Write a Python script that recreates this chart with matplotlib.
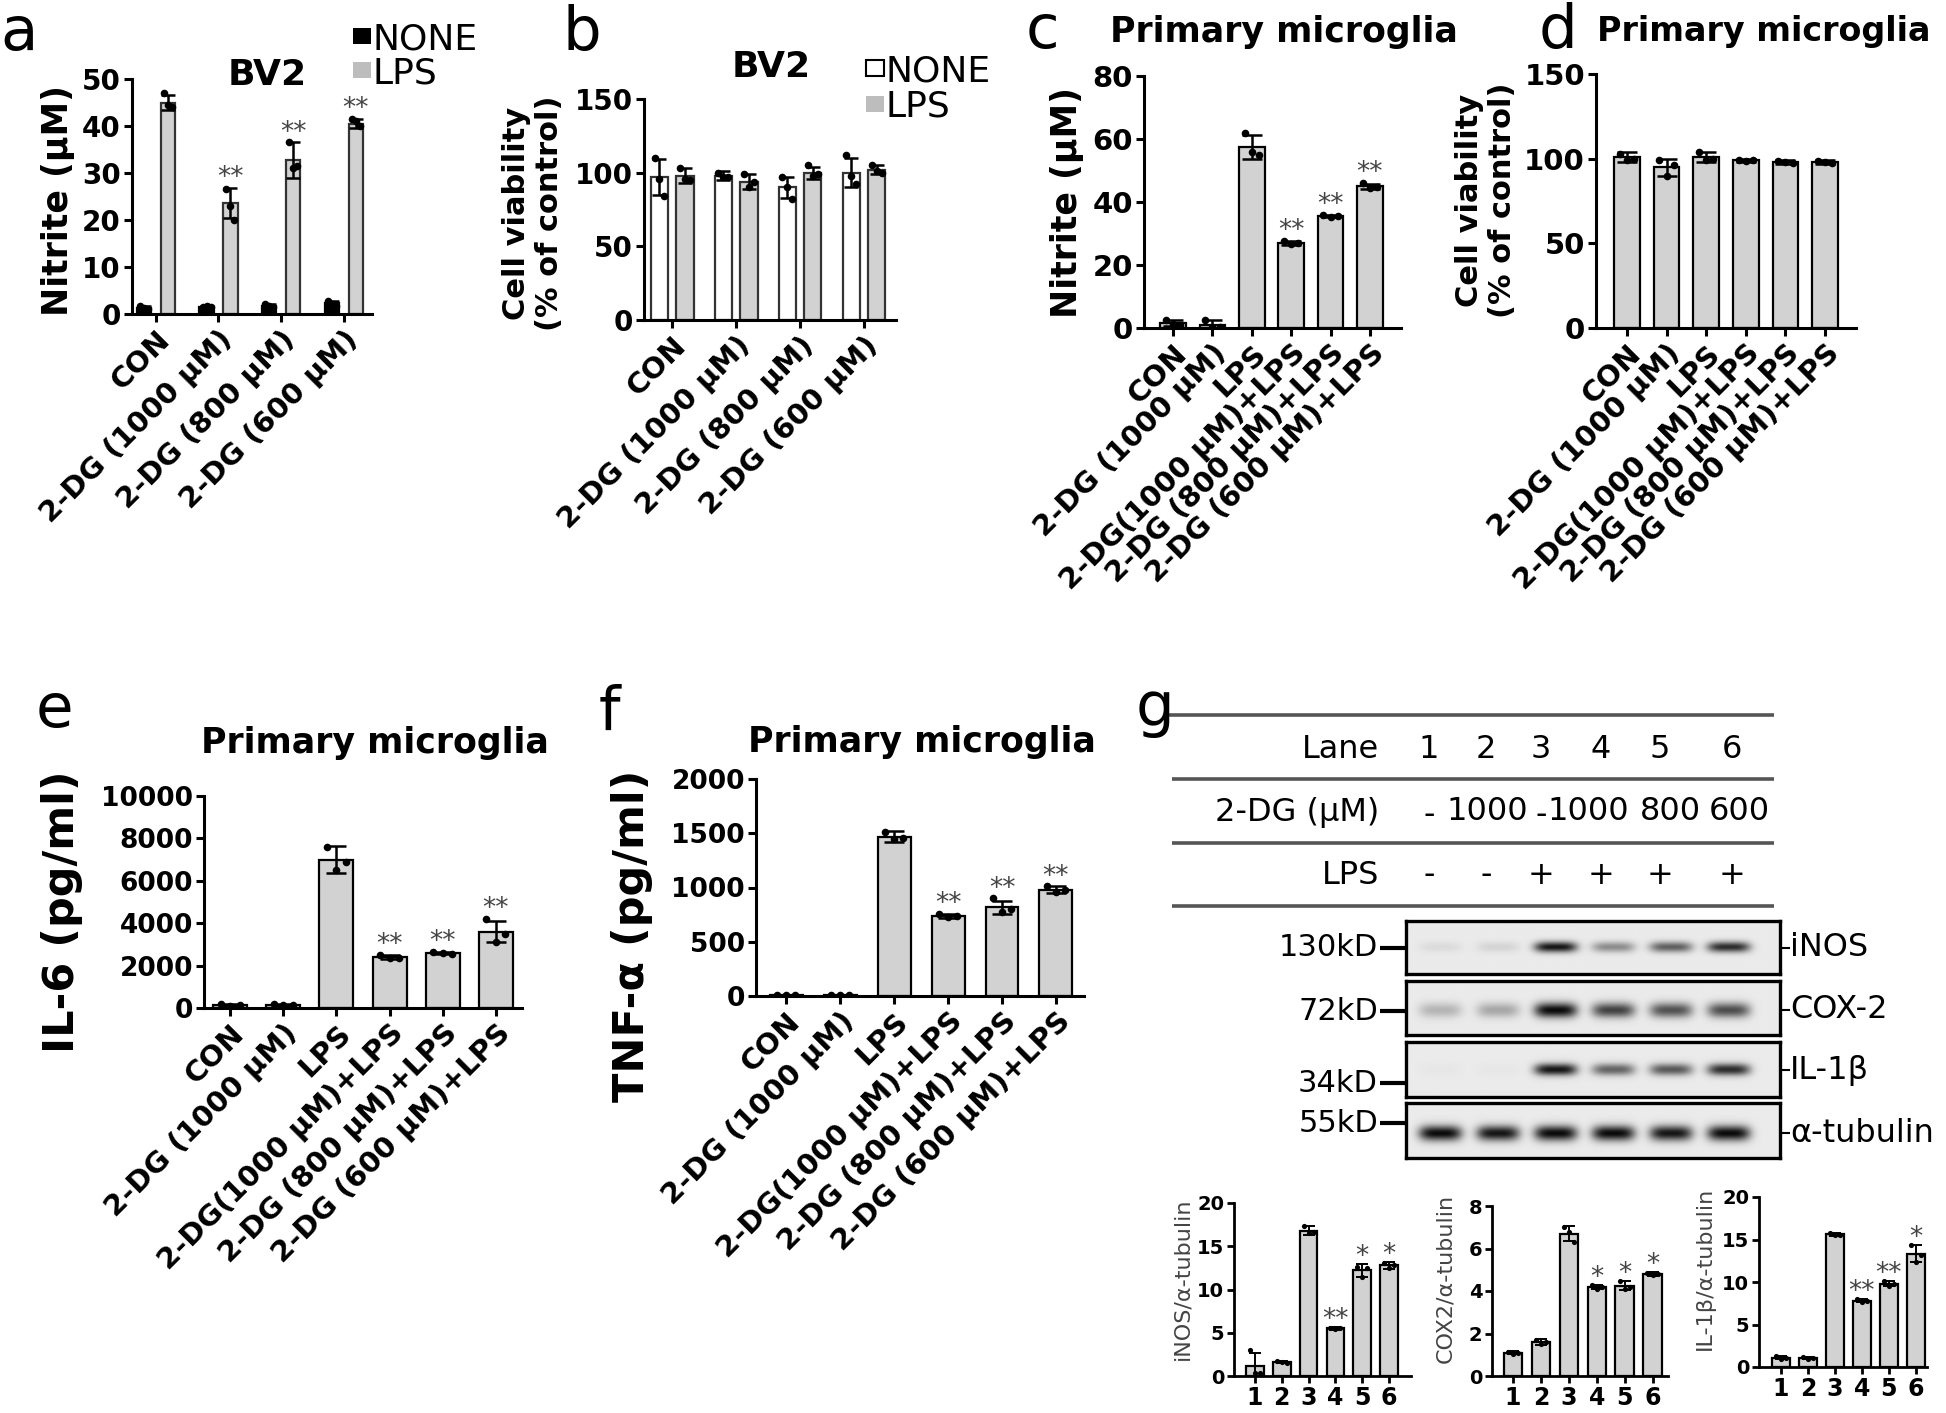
import numpy as np
import matplotlib
matplotlib.use("Agg")
import matplotlib.pyplot as plt
from matplotlib.patches import Patch

# ---------------------------------------------------------------- data
bv2_labels = ["CON", "2-DG (1000 μM)", "2-DG (800 μM)", "2-DG (600 μM)"]
pm_labels = ["CON", "2-DG (1000 μM)", "LPS", "2-DG(1000 μM)+LPS",
             "2-DG (800 μM)+LPS", "2-DG (600 μM)+LPS"]
lane_labels = ["1", "2", "3", "4", "5", "6"]
series_names = ["NONE", "LPS"]

# (a) BV2 nitrite
a_none_mean = [1.3, 1.5, 1.8, 2.3]
a_none_sd = [0.3, 0.2, 0.4, 0.5]
a_none_pts = [[1.6, 1.2, 1.1], [1.5, 1.6, 1.4], [2.1, 1.7, 1.5], [2.8, 2.2, 1.8]]
a_lps_mean = [45.0, 23.7, 32.7, 40.5]
a_lps_sd = [1.6, 3.2, 3.8, 1.0]
a_lps_pts = [[47.0, 44.5, 44.0], [26.5, 23.0, 20.0], [36.5, 31.0, 31.5], [41.5, 41.0, 40.0]]
a_sig = ["", "**", "**", "**"]

# (b) BV2 viability
b_none_mean = [97, 98, 90, 100]
b_none_sd = [12, 3, 7, 10]
b_none_pts = [[110, 96, 84], [100, 97, 97], [97, 90, 82], [112, 98, 92]]
b_lps_mean = [98, 94, 100, 102]
b_lps_sd = [5, 5, 4, 3]
b_lps_pts = [[103, 96, 95], [99, 90, 94], [105, 98, 99], [105, 101, 100]]

# (c) primary microglia nitrite
c_mean = [1.5, 1.0, 57.5, 27.0, 35.5, 45.0]
c_sd = [1.0, 1.4, 3.8, 0.6, 0.4, 0.8]
c_pts = [[2.6, 1.2, 0.8], [2.4, 0.4, 0.2], [62, 56, 55], [27.5, 26.6, 26.9],
         [35.8, 35.3, 35.4], [46.0, 44.6, 44.8]]
c_sig = ["", "", "", "**", "**", "**"]

# (d) primary microglia viability
d_mean = [101, 95, 101, 99, 98, 98]
d_sd = [3, 5, 3, 1, 1, 1]
d_pts = [[103, 99, 100], [99, 90, 96], [104, 99, 100], [99.5, 98.5, 99],
         [98.5, 98, 97.5], [98.5, 98, 97.5]]

# (e) IL-6
e_mean = [150, 150, 7000, 2400, 2600, 3600]
e_sd = [60, 60, 650, 100, 60, 500]
e_pts = [[200, 100, 150], [200, 120, 150], [7600, 6500, 6900], [2500, 2350, 2350],
         [2650, 2600, 2550], [4200, 3100, 3500]]
e_sig = ["", "", "", "**", "**", "**"]

# (f) TNF-alpha
f_mean = [5, 5, 1470, 740, 820, 980]
f_sd = [3, 3, 50, 20, 60, 30]
f_pts = [[5, 5, 5], [5, 5, 5], [1510, 1450, 1460], [760, 730, 735],
         [900, 770, 800], [1010, 960, 975]]
f_sig = ["", "", "", "**", "**", "**"]

# (g) densitometry
g_inos_mean = [1.2, 1.6, 16.8, 5.5, 12.2, 12.8]
g_inos_sd = [1.5, 0.1, 0.5, 0.15, 0.8, 0.4]
g_inos_pts = [[3.0, 0.4, 0.3], [1.7, 1.6, 1.5], [17.3, 16.5, 16.6], [5.6, 5.4, 5.5],
              [12.6, 11.4, 12.5], [13.1, 12.5, 12.8]]
g_inos_sig = ["", "", "", "**", "*", "*"]
g_cox_mean = [1.1, 1.6, 6.7, 4.2, 4.25, 4.8]
g_cox_sd = [0.08, 0.12, 0.35, 0.1, 0.2, 0.08]
g_cox_pts = [[1.15, 1.05, 1.1], [1.7, 1.5, 1.6], [7.0, 6.8, 6.3], [4.3, 4.1, 4.2],
             [4.45, 4.1, 4.2], [4.85, 4.75, 4.8]]
g_cox_sig = ["", "", "", "*", "*", "*"]
g_il_mean = [1.1, 1.1, 15.6, 7.8, 9.8, 13.3]
g_il_sd = [0.2, 0.1, 0.2, 0.2, 0.3, 1.0]
g_il_pts = [[1.3, 0.9, 1.1], [1.2, 1.0, 1.1], [15.8, 15.5, 15.5], [8.0, 7.6, 7.8],
            [10.1, 9.5, 9.8], [14.3, 12.4, 13.2]]
g_il_sig = ["", "", "", "**", "**", "*"]

# western blot (relative band darkness per lane)
blot_proteins = ["iNOS", "COX-2", "IL-1β", "α-tubulin"]
blot_markers = ["130kD", "72kD", "34kD", "55kD"]
band_inos = [0.07, 0.10, 0.95, 0.42, 0.62, 0.85]
band_cox2 = [0.24, 0.30, 1.00, 0.75, 0.68, 0.70]
band_il1b = [0.02, 0.02, 0.95, 0.60, 0.65, 0.85]
band_tub = [1.00, 0.95, 1.00, 1.00, 0.95, 1.00]
dg_doses = ["-", "1000", "-", "1000", "800", "600"]
lps_signs = ["-", "-", "+", "+", "+", "+"]

# ---------------------------------------------------------------- setup
W, H = 1946, 1413
plt.rcParams["font.family"] = ["DejaVu Sans"]
fig = plt.figure(figsize=(W / 100, H / 100), dpi=100)
GRAY = "#d2d2d2"


def add_ax(x0, x1, y0, y1):
    return fig.add_axes([x0 / W, 1 - y1 / H, (x1 - x0) / W, (y1 - y0) / H])


def style(ax, xlim, ylim, yticks, fs, lw=2.2, tl=6):
    ax.set_xlim(*xlim)
    ax.set_ylim(*ylim)
    ax.set_yticks(yticks, labels=[str(v) for v in yticks], fontsize=fs, fontweight="bold")
    for s in ("top", "right"):
        ax.spines[s].set_visible(False)
    for s in ("left", "bottom"):
        ax.spines[s].set_linewidth(lw)
    ax.tick_params(axis="both", width=lw, length=tl, direction="out", pad=2)


def bars(ax, x, mean, sd, pts, width, face, s=30, cap=7, elw=1.8, edge="black"):
    ax.bar(x, mean, width, color=face, edgecolor=edge, linewidth=1.6, zorder=2)
    ax.errorbar(x, mean, yerr=sd, fmt="none", ecolor="black", elinewidth=elw,
                capsize=cap, capthick=elw, zorder=4)
    offs = np.array([-0.28, 0.0, 0.28]) * width
    for xi, p in zip(x, pts):
        ax.scatter(xi + offs, p, s=s, color="black", zorder=5, linewidths=0)


def stars(ax, x, mean, sd, pts, sig, fs=19, dy=2):
    for xi, m, e, p, t in zip(x, mean, sd, pts, sig):
        if t:
            top = max(m + e, max(p))
            ax.annotate(t, (xi, top), xytext=(0, dy), textcoords="offset points",
                        ha="center", va="baseline", fontsize=fs, color="#444444")


def xlabels(ax, x, labels, fs):
    ax.set_xticks(x, labels=labels, rotation=45, ha="right", rotation_mode="anchor",
                  fontsize=fs, fontweight="bold")


# ---------------------------------------------------------------- (a)
ax = add_ax(132, 372, 79, 314)
xg = np.arange(len(bv2_labels))
bars(ax, xg - 0.19, a_none_mean, a_none_sd, a_none_pts, 0.23, "black", cap=5)
bars(ax, xg + 0.19, a_lps_mean, a_lps_sd, a_lps_pts, 0.23, GRAY, cap=5, edge="#333333")
stars(ax, xg + 0.19, a_lps_mean, a_lps_sd, a_lps_pts, a_sig)
style(ax, (-0.38, 3.45), (0, 50), [0, 10, 20, 30, 40, 50], 20)
xlabels(ax, xg, bv2_labels, 21)

# ---------------------------------------------------------------- (b)
ax = add_ax(644, 896, 99, 320)
bars(ax, xg - 0.2, b_none_mean, b_none_sd, b_none_pts, 0.27, "white", cap=5, edge="#333333")
bars(ax, xg + 0.2, b_lps_mean, b_lps_sd, b_lps_pts, 0.27, GRAY, cap=5, edge="#333333")
style(ax, (-0.44, 3.5), (0, 150), [0, 50, 100, 150], 20)
xlabels(ax, xg, bv2_labels, 21)

# ---------------------------------------------------------------- (c)
x6 = np.arange(6)
ax = add_ax(1144, 1401, 76, 328)
bars(ax, x6, c_mean, c_sd, c_pts, 0.65, GRAY)
stars(ax, x6, c_mean, c_sd, c_pts, c_sig)
style(ax, (-0.74, 5.79), (0, 80), [0, 20, 40, 60, 80], 21)
xlabels(ax, x6, pm_labels, 21)

# ---------------------------------------------------------------- (d)
ax = add_ax(1596, 1856, 74, 328)
bars(ax, x6, d_mean, d_sd, d_pts, 0.65, GRAY)
style(ax, (-0.78, 5.78), (0, 150), [0, 50, 100, 150], 21)
xlabels(ax, x6, pm_labels, 21)

# ---------------------------------------------------------------- (e)
ax = add_ax(204, 522, 796, 1008)
bars(ax, x6, e_mean, e_sd, e_pts, 0.64, GRAY)
stars(ax, x6, e_mean, e_sd, e_pts, e_sig)
style(ax, (-0.49, 5.49), (0, 10000), [0, 2000, 4000, 6000, 8000, 10000], 19)
xlabels(ax, x6, pm_labels, 21)

# ---------------------------------------------------------------- (f)
ax = add_ax(756, 1084, 779, 996)
bars(ax, x6, f_mean, f_sd, f_pts, 0.61, GRAY)
stars(ax, x6, f_mean, f_sd, f_pts, f_sig)
style(ax, (-0.56, 5.52), (0, 2000), [0, 500, 1000, 1500, 2000], 19)
xlabels(ax, x6, pm_labels, 21)

# ---------------------------------------------------------------- (g) quantification
for (x0, x1, y0, y1, mean, sd, pts, sig, ymax, yt, xl) in [
        (1234, 1411, 1203, 1376, g_inos_mean, g_inos_sd, g_inos_pts, g_inos_sig, 20, [0, 5, 10, 15, 20], (-0.78, 5.82)),
        (1492, 1668, 1206, 1376, g_cox_mean, g_cox_sd, g_cox_pts, g_cox_sig, 8, [0, 2, 4, 6, 8], (-0.75, 5.55)),
        (1759, 1927, 1197, 1367, g_il_mean, g_il_sd, g_il_pts, g_il_sig, 20, [0, 5, 10, 15, 20], (-0.81, 5.41))]:
    ax = add_ax(x0, x1, y0, y1)
    bars(ax, x6, mean, sd, pts, 0.66, GRAY, s=14, cap=4, elw=1.4)
    stars(ax, x6, mean, sd, pts, sig, fs=19, dy=0)
    style(ax, xl, (0, ymax), yt, 14, lw=2.0, tl=5)
    ax.set_xticks(x6, labels=lane_labels, fontsize=17, fontweight="bold")

# ---------------------------------------------------------------- (g) blot
blot_rows = [(921, 974, band_inos, 0.50, 0.10),
             (981, 1035, band_cox2, 0.54, 0.14),
             (1042, 1097, band_il1b, 0.50, 0.11),
             (1103, 1158, band_tub, 0.55, 0.14)]
xs = np.linspace(-0.59, 5.88, 400)
ys = np.linspace(0, 1, 60)
X, Y = np.meshgrid(xs, ys)
for (y0, y1, inten, yc, sg) in blot_rows:
    ax = add_ax(1406, 1780, y0, y1)
    dens = np.zeros_like(X)
    for xi, v in zip(x6, inten):
        dens += v * np.exp(-((X - xi) / 0.37) ** 4) * np.exp(-((Y - yc) / sg) ** 2)
    img = 0.92 - 0.88 * np.clip(dens, 0, 1)
    ax.imshow(img, cmap="gray", vmin=0, vmax=1, extent=(-0.59, 5.88, 1, 0),
              aspect="auto", interpolation="bilinear")
    ax.set_xticks([])
    ax.set_yticks([])
    for s in ax.spines.values():
        s.set_linewidth(2.4)

# ---------------------------------------------------------------- overlay text / lines
ov = fig.add_axes([0, 0, 1, 1])
ov.set_xlim(0, W)
ov.set_ylim(H, 0)
ov.axis("off")

# panel letters
for letter, x, y in [("a", 0, 50), ("b", 562, 50), ("c", 1026, 48), ("d", 1539, 48),
                     ("e", 36, 727), ("f", 599, 730), ("g", 1136, 725)]:
    ov.text(x, y, letter, fontsize=44, ha="left", va="baseline")

# titles
for t, x, y, fs in [("BV2", 267, 75, 26), ("BV2", 771, 67, 26),
                    ("Primary microglia", 1284, 32, 25), ("Primary microglia", 1764, 32, 24),
                    ("Primary microglia", 375, 743, 25), ("Primary microglia", 922, 742, 25)]:
    ov.text(x, y, t, fontsize=fs, fontweight="bold", ha="center", va="center")

# y labels
for t, x, y, fs in [("Nitrite (μM)", 58, 200, 25), ("Cell viability\n(% of control)", 533, 213, 22),
                    ("Nitrite (μM)", 1067, 203, 25), ("Cell viability\n(% of control)", 1486, 200, 22),
                    ("IL-6 (pg/ml)", 62, 912, 31), ("TNF-α (pg/ml)", 632, 936, 31)]:
    ov.text(x, y, t, fontsize=fs, fontweight="bold", rotation=90, ha="center", va="center",
            linespacing=1.15, multialignment="center")
for t, x, y in [("iNOS/α-tubulin", 1182, 1279), ("COX2/α-tubulin", 1445, 1278),
                ("IL-1β/α-tubulin", 1705, 1268)]:
    ov.text(x, y, t, fontsize=16, color="#444444", rotation=90, ha="center", va="center")

# legends
fig.legend([Patch(facecolor="black"), Patch(facecolor="#bdbdbd")], series_names,
           loc="upper left", bbox_to_anchor=(353 / W, 1 - 22 / H), frameon=False,
           fontsize=26, handlelength=0.5, handleheight=0.3, handletextpad=0.05,
           labelspacing=0.0, borderpad=0, borderaxespad=0)
fig.legend([Patch(facecolor="white", edgecolor="black", linewidth=1.5), Patch(facecolor="#bdbdbd")],
           series_names, loc="upper left", bbox_to_anchor=(866 / W, 1 - 54 / H), frameon=False,
           fontsize=26, handlelength=0.5, handleheight=0.3, handletextpad=0.05,
           labelspacing=0.05, borderpad=0, borderaxespad=0)

# table lines
for y, x0 in [(715, 1169), (779, 1172), (843, 1172), (906, 1172)]:
    ov.plot([x0, 1774], [y, y], color="#555555", lw=2.6, solid_capstyle="butt")

lane_x = [1429, 1486, 1541, 1601, 1660, 1732]
dose_x = [1429, 1487, 1541, 1588, 1670, 1739]
ov.text(1379, 750, "Lane", fontsize=23, ha="right", va="center")
ov.text(1379, 812, "2-DG (μM)", fontsize=23, ha="right", va="center")
ov.text(1379, 875, "LPS", fontsize=23, ha="right", va="center")
for x, t in zip(lane_x, lane_labels):
    ov.text(x, 750, t, fontsize=23, ha="center", va="center")
for x, t in zip(dose_x, dg_doses):
    ov.text(x, 815 if t == "-" else 812, t, fontsize=23, ha="center", va="center")
for x, t in zip(lane_x, lps_signs):
    ov.text(x, 875, t, fontsize=23, ha="center", va="center")

# blot markers and protein names
for t, y in zip(blot_markers, [948, 1011, 1083, 1123]):
    ov.plot([1380, 1406], [y, y], color="black", lw=3, solid_capstyle="butt")
    ov.text(1378, y, t, fontsize=22, ha="right", va="center")
for t, y in zip(blot_proteins, [948, 1010, 1070, 1133]):
    ov.plot([1781, 1789], [y, y], color="black", lw=1.5)
    ov.text(1790, y, t, fontsize=23, ha="left", va="center")

fig.savefig("out.png", dpi=100)
